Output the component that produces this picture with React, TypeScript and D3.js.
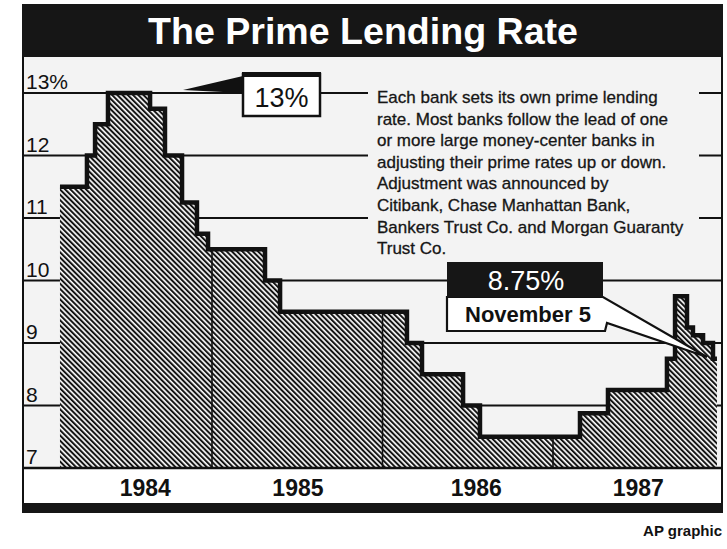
import React from 'react';
import * as d3 from 'd3';

// [months since Jan 1984, prime rate %] — step changes
const rateMonths = [1.3, 3.2, 3.77, 4.68, 7.64, 8.69, 9.89, 10.94, 11.72, 15.73, 16.79, 25.72, 26.78, 29.67, 30.86, 37.9, 39.87, 44.02, 44.59, 45.43, 45.85, 46.56, 47.26, 47.54];
const rateValues = [11.5, 12, 12.5, 13, 12.75, 12, 11.25, 10.75, 10.5, 10, 9.5, 9, 8.5, 8, 7.5, 7.875, 8.25, 8.75, 9.75, 9.25, 9.125, 9, 8.75, 8.75];

const yearBoundaries = [12, 24, 36];
const yearLabels = ['1984', '1985', '1986', '1987'];
const yearLabelPos = [7.3, 18.05, 30.6, 42.0];
const yTicks = [7, 8, 9, 10, 11, 12, 13];
const gridTicks = [8, 9, 10, 11, 12, 13];

const title = 'The Prime Lending Rate';
const noteLines = [
  'Each bank sets its own prime lending',
  'rate. Most banks follow the lead of one',
  'or more large money-center banks in',
  'adjusting their prime rates up or down.',
  'Adjustment was announced by',
  'Citibank, Chase Manhattan Bank,',
  'Bankers Trust Co. and Morgan Guaranty',
  'Trust Co.',
];
const peakLabel = '13%';
const currentRate = '8.75%';
const currentDate = 'November 5';
const credit = 'AP graphic';

const FONT = "'Liberation Sans', Arial, Helvetica, sans-serif";

export default function App() {
  const W = 727, H = 549;
  const frameL = 23, frameR = 722;
  const x = d3.scaleLinear().domain([0, 48]).range([41.5, 723.5]);
  const y = d3.scaleLinear().domain([7, 13]).range([468, 93]);

  const data: [number, number][] = rateMonths.map((m, i) => [m, rateValues[i]]);
  const area = d3.area<[number, number]>()
    .x(d => x(d[0])).y0(y(7)).y1(d => y(d[1])).curve(d3.curveStepAfter);
  const line = d3.line<[number, number]>()
    .x(d => x(d[0])).y(d => y(d[1])).curve(d3.curveStepAfter);

  const rateAt = (m: number) => {
    let v = rateValues[0];
    for (let i = 0; i < rateMonths.length; i++) if (rateMonths[i] <= m) v = rateValues[i];
    return v;
  };

  return (
    <svg width={W} height={H} style={{ position: 'absolute', left: 0, top: 0, background: '#fff' }}>
      <defs>
        <pattern id="hatch" patternUnits="userSpaceOnUse" width={3.7} height={3.7} patternTransform="rotate(-45)">
          <rect width={3.7} height={3.7} fill="#fafafa" />
          <rect x={0} y={0} width={2.0} height={3.7} fill="#141414" />
        </pattern>
      </defs>
      {/* plot background */}
      <rect x={frameL} y={57} width={frameR - frameL} height={468 - 57} fill="#f3f3f3" />
      {/* gridlines */}
      {gridTicks.map(v => (
        <line key={v} x1={frameL} x2={frameR} y1={y(v)} y2={y(v)} stroke="#111" strokeWidth={2} />
      ))}
      {/* hatched area */}
      <path d={area(data) || ''} fill="url(#hatch)" />
      {/* year separators */}
      {yearBoundaries.map(b => (
        <line key={b} x1={x(b)} x2={x(b)} y1={y(rateAt(b))} y2={y(7)} stroke="#111" strokeWidth={1.6} />
      ))}
      {/* step outline */}
      <path d={line(data) || ''} fill="none" stroke="#111" strokeWidth={4.5} strokeLinejoin="miter" />

      {/* note box */}
      <rect x={368} y={80} width={331} height={178} fill="#f3f3f3" />
      {noteLines.map((t, i) => (
        <text key={i} x={377} y={103 + i * 21.6} fontFamily={FONT} fontSize={17} fill="#161616"
          stroke="#161616" strokeWidth={0.3}>{t}</text>
      ))}

      {/* 13% callout */}
      <polygon points="243,76 243,93 183,90" fill="#111" />
      <rect x={243} y={74} width={77} height={42} fill="#fff" stroke="#111" strokeWidth={2.5} />
      <rect x={242} y={72} width={79} height={5} fill="#111" />
      <text x={281.5} y={107} textAnchor="middle" fontFamily={FONT} fontSize={27} fill="#111">{peakLabel}</text>

      {/* 8.75% callout */}
      <polygon points="447,297 603,297 707,357 607,323 605,331 447,331" fill="#fff" stroke="#111" strokeWidth={2.2} strokeLinejoin="miter" />
      <rect x={447} y={262} width={156} height={35} fill="#161616" />
      <text x={526} y={290} textAnchor="middle" fontFamily={FONT} fontSize={27} fill="#fff">{currentRate}</text>
      <text x={528} y={322} textAnchor="middle" fontFamily={FONT} fontSize={22} fontWeight="bold" fill="#111">{currentDate}</text>

      {/* title bar */}
      <rect x={22} y={4} width={701} height={53} fill="#161616" />
      <text x={363} y={44} textAnchor="middle" fontFamily={FONT} fontSize={36} fontWeight="bold" fill="#fff"
        textLength={430} lengthAdjust="spacingAndGlyphs">{title}</text>

      {/* label band + bottom bar */}
      <rect x={frameL} y={469} width={frameR - frameL} height={34} fill="#fff" />
      <line x1={frameL} x2={frameR} y1={y(7)} y2={y(7)} stroke="#111" strokeWidth={2.5} />
      <rect x={22} y={503} width={701} height={10} fill="#161616" />
      {yearLabels.map((t, i) => (
        <text key={t} x={x(yearLabelPos[i])} y={496} textAnchor="middle" fontFamily={FONT} fontSize={23} fontWeight="bold" fill="#111">{t}</text>
      ))}

      {/* frame sides */}
      <line x1={frameL} x2={frameL} y1={57} y2={503} stroke="#111" strokeWidth={2} />
      <line x1={frameR} x2={frameR} y1={57} y2={503} stroke="#111" strokeWidth={2} />

      {/* y labels */}
      {yTicks.map(v => (
        <text key={v} x={26} y={y(v) - 4} fontFamily={FONT} fontSize={21} fill="#111">{v === 13 ? `${v}%` : `${v}`}</text>
      ))}

      <text x={722} y={536} textAnchor="end" fontFamily={FONT} fontSize={15} fontWeight="bold" fill="#111">{credit}</text>
    </svg>
  );
}
